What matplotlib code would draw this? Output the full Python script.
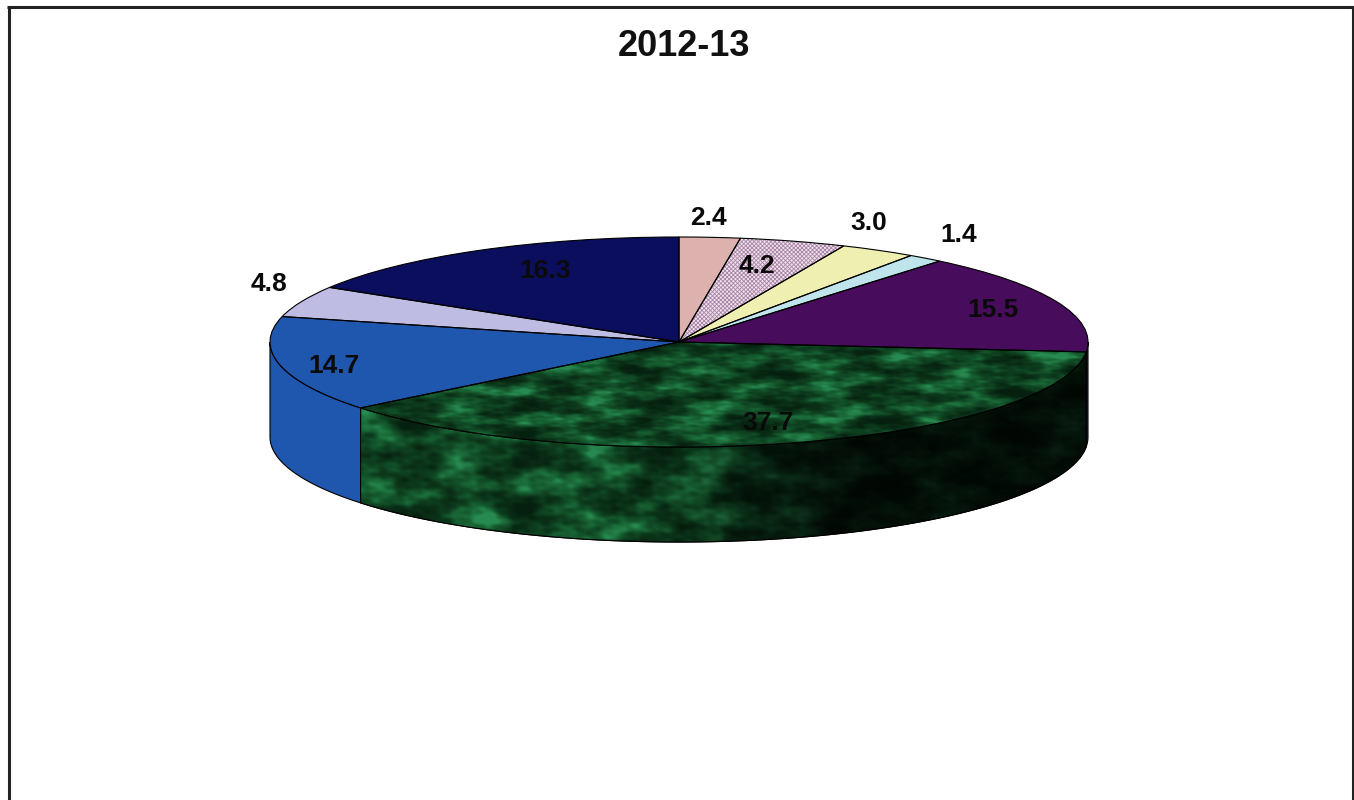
import numpy as np
import matplotlib
matplotlib.use("Agg")
import matplotlib.pyplot as plt
from matplotlib.colors import LinearSegmentedColormap
from matplotlib.patches import Polygon

plt.rcParams['font.family'] = ['Liberation Sans', 'DejaVu Sans']
plt.rcParams['hatch.linewidth'] = 0.6

title = "2012-13"
values = [2.4, 4.2, 3.0, 1.4, 15.5, 37.7, 14.7, 4.8, 16.3]
labels = ["2.4", "4.2", "3.0", "1.4", "15.5", "37.7", "14.7", "4.8", "16.3"]
colors = ["#DDB2AE", "#F4E2EA", "#F0EFB2", "#BFE4EB", "#480C5C",
          "#14562C", "#1F56AE", "#BEBCE2", "#0A0E5C"]
label_px = [(708, 218), (757, 266), (869, 223), (959, 235), (993, 310),
            (768, 423), (334, 366), (269, 284), (545, 271)]

W, H = 1354, 800
CX, CY, RX, RY, DEPTH = 679, 342, 409, 105, 95
dz = DEPTH / RY


def to_x(px):
    return (px - CX) / RX


def to_y(py):
    return (CY - py) / RY


fig = plt.figure(figsize=(W / 100, H / 100), dpi=100, facecolor="white")
ax = fig.add_axes([0, 0, 1, 1])
ax.axis("off")

fractions = np.array(values) / sum(values)
edges = np.concatenate([[0], np.cumsum(fractions)]) * 2 * np.pi


def texture(xs, ys, squeeze):
    """Deterministic mottled marble: a sum of plane waves in many directions."""
    X, Y = np.meshgrid(xs, ys)
    U = X * RX
    V = Y * RY * squeeze
    t = np.zeros_like(U)
    wavelength = 120.0
    for k in range(22):
        angle = k * 2.39996
        phase = k * k * 0.731
        warp = 0.6 * np.sin((U * np.sin(angle) - V * np.cos(angle)) / 40 + k)
        t += wavelength ** 0.75 * np.sin(
            2 * np.pi * (U * np.cos(angle) + V * np.sin(angle)) / wavelength + phase + warp)
        wavelength *= 0.89
    t = (t - t.min()) / (t.max() - t.min())
    return np.clip((t - 0.18) / 0.64, 0, 1) ** 1.5


marble = LinearSegmentedColormap.from_list(
    "marble", ["#06200F", "#0E4020", "#186434", "#278A50"])

ymin, ymax = to_y(H), to_y(0)
xmin, xmax = to_x(0), to_x(W)

# side wall
for i, v in enumerate(values):
    a0 = max(edges[i], np.pi / 2)
    a1 = min(edges[i + 1], 3 * np.pi / 2)
    if a1 <= a0:
        continue
    th = np.linspace(a0, a1, 200)
    xs, ys = np.sin(th), np.cos(th)
    pts = np.vstack([np.c_[xs, ys], np.c_[xs, ys - dz][::-1]])
    poly = Polygon(pts, closed=True, facecolor=colors[i], edgecolor="black",
                   lw=0.8, zorder=2)
    ax.add_patch(poly)
    if i == 5:
        gx = np.linspace(-1.0, 1.0, 821)
        gy = np.linspace(-2.0, 0.2, 300)
        tex = marble(texture(gx, gy, 2.0))
        shade = np.clip((gx * RX + CX - 880) / (650 - 880), 0.2, 1.0)
        tex[..., :3] *= shade[None, :, None]
        im = ax.imshow(tex, extent=[gx[0], gx[-1], gy[0], gy[-1]], origin="lower",
                       aspect="auto", zorder=3, interpolation="bilinear")
        im.set_clip_path(poly)
        ax.add_patch(Polygon(pts, closed=True, fill=False, edgecolor="black",
                             lw=0.8, zorder=4))

# top face
wedges, _ = ax.pie(values, colors=colors, startangle=90, counterclock=False,
                   radius=1, center=(0, 0), frame=True,
                   wedgeprops=dict(linewidth=0))
for w in wedges:
    w.set_zorder(5)
wedges[1].set_hatch("xxxxxxxx")
wedges[1].set_edgecolor("#A584A8")

gx = np.linspace(-1.0, 1.0, 821)
gy = np.linspace(-1.05, 0.15, 130)
top_im = ax.imshow(marble(texture(gx, gy, 3.6)),
                   extent=[gx[0], gx[-1], gy[0], gy[-1]], origin="lower",
                   aspect="auto", zorder=6, interpolation="bilinear")
top_im.set_clip_path(wedges[5])

outlines, _ = ax.pie(values, startangle=90, counterclock=False, radius=1,
                     center=(0, 0), frame=True,
                     wedgeprops=dict(fill=False, edgecolor="black", linewidth=0.8))
for w in outlines:
    w.set_zorder(7)

for lab, (px, py) in zip(labels, label_px):
    ax.text(to_x(px), to_y(py), lab, ha="center", va="center", fontsize=19,
            fontweight="bold", color="#0A0A0A", zorder=8)

ax.text(to_x(684), to_y(46), title, ha="center", va="center", fontsize=26,
        fontweight="bold", color="#111111", zorder=8)

# border (open at the bottom, as cropped in the reference)
for xs, ys in [((8.5, 8.5), (6, H)), ((7, 1354), (7, 7)), ((1352.5, 1352.5), (6, H))]:
    ax.plot([to_x(p) for p in xs], [to_y(p) for p in ys], color="#222222", lw=2.2,
            solid_capstyle="butt", zorder=9)

ax.set_aspect("auto")
ax.set_xlim(xmin, xmax)
ax.set_ylim(ymin, ymax)
ax.axis("off")
fig.savefig("out.png", dpi=100, facecolor="white")
